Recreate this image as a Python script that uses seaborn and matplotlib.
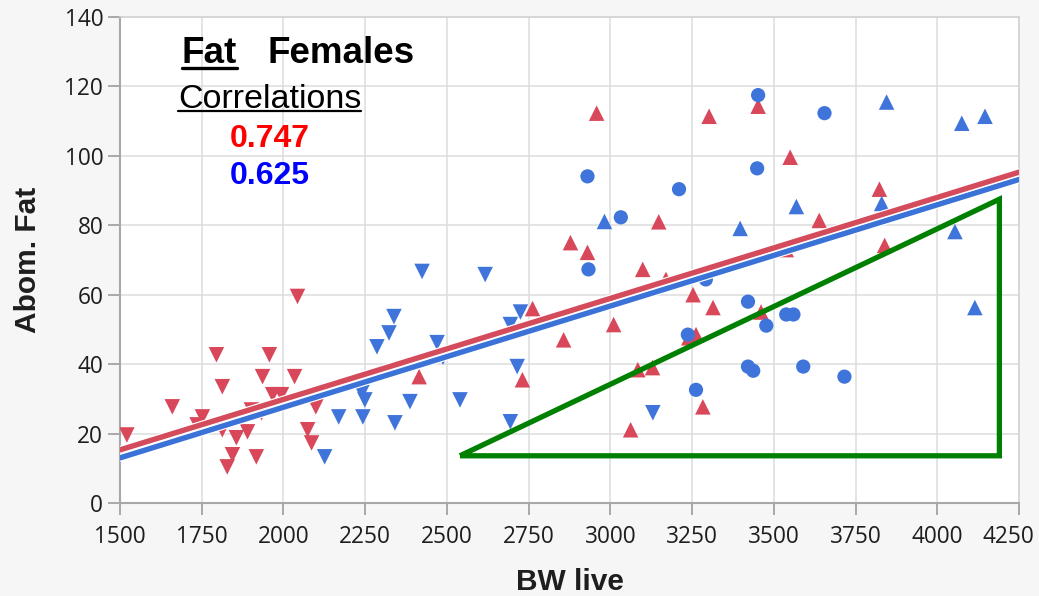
import matplotlib
matplotlib.use("Agg")
import matplotlib.pyplot as plt
import matplotlib.patheffects as pe
import matplotlib.transforms as mtransforms
from matplotlib.lines import Line2D
import numpy as np
import pandas as pd
import seaborn as sns

# ---- data: body weight (g) vs abdominal fat (g), females ----
red_down_x = [1521, 1660, 1752, 1736, 1795, 1813, 1813, 1856, 1828, 1844, 1890, 1917,
              1902, 1936, 1957, 1933, 1967, 1994, 2034, 2043, 2099, 2074, 2086]
red_down_y = [19.6, 27.7, 24.8, 22.5, 42.7, 33.5, 21.1, 18.8, 10.4, 13.9, 20.5, 13.3,
              26.8, 36.4, 42.7, 26.0, 31.2, 31.2, 36.4, 59.5, 27.7, 21.1, 17.3]

blue_down_x = [2424, 2617, 2338, 2323, 2286, 2470, 2488, 2240, 2249, 2243, 2169, 2341,
               2387, 2540, 2725, 2694, 2715, 2694, 2126, 3130]
blue_down_y = [66.7, 65.8, 53.7, 49.0, 45.0, 46.2, 42.0, 31.8, 29.7, 24.8, 24.8, 23.1,
               29.2, 29.7, 55.0, 51.4, 39.3, 23.4, 13.3, 26.0]

red_up_x = [2415, 2762, 2731, 2857, 3010, 2878, 2930, 3099, 3148, 3170, 3253, 3314,
            3240, 3262, 3084, 3129, 3283, 3062, 2958, 3302, 3452, 3550, 3639, 3823,
            3839, 3538, 3461]
red_up_y = [36.4, 56.0, 35.5, 47.0, 51.4, 75.0, 72.2, 67.3, 81.0, 64.4, 60.0, 56.3,
            47.6, 48.5, 38.4, 39.0, 27.7, 21.1, 112.3, 111.4, 114.3, 99.6, 81.4, 90.4,
            74.2, 73.0, 55.0]

blue_up_x = [2982, 3397, 3845, 4075, 4146, 3569, 3830, 4054, 4115]
blue_up_y = [81.1, 79.1, 115.5, 109.4, 111.4, 85.4, 86.3, 78.2, 56.3]

blue_circle_x = [2930, 3210, 3032, 2933, 3292, 3421, 3237, 3421, 3262, 3452, 3655,
                 3449, 3538, 3560, 3477, 3437, 3590, 3716]
blue_circle_y = [94.1, 90.4, 82.3, 67.3, 64.4, 58.0, 48.5, 39.3, 32.6, 117.5, 112.3,
                 96.4, 54.3, 54.3, 51.1, 38.1, 39.3, 36.4]

# fitted regression lines (end points over the axis range)
fit_x = [1500, 4250]
red_fit_y = [15.3, 95.3]
blue_fit_y = [13.0, 93.2]

# highlighted region
region_x = [2540, 4190, 4190, 2540]
region_y = [13.6, 87.5, 13.6, 13.6]

corr_red = "0.747"
corr_blue = "0.625"

x_ticks = list(range(1500, 4251, 250))
y_ticks = list(range(0, 141, 20))

# ---- build tidy table ----
def block(xs, ys, line, shape):
    return pd.DataFrame({"BW live": xs, "Abom. Fat": ys, "line": line, "shape": shape})

df = pd.concat([
    block(red_down_x, red_down_y, "R", "down"),
    block(blue_down_x, blue_down_y, "B", "down"),
    block(red_up_x, red_up_y, "R", "up"),
    block(blue_up_x, blue_up_y, "B", "up"),
    block(blue_circle_x, blue_circle_y, "B", "circle"),
], ignore_index=True)

RED = "#d9475a"
BLUE = "#3f74db"
palette = {"R": RED, "B": BLUE}
markers = {"down": "v", "up": "^", "circle": "o"}

W, H = 1039, 596
sns.set_theme(style="white")
plt.rcParams["font.family"] = ["Open Sans", "DejaVu Sans"]

fig = plt.figure(figsize=(W / 100, H / 100), dpi=100, facecolor="#f6f6f6")
ax = fig.add_axes([120 / W, (H - 503) / H, 899 / W, 486 / H])
ax.set_facecolor("white")

for shape, mk in markers.items():
    sub = df[df["shape"] == shape]
    sns.scatterplot(data=sub, x="BW live", y="Abom. Fat", hue="line", palette=palette,
                    marker=mk, s=105 if mk == "o" else 125, linewidth=0,
                    legend=False, ax=ax, zorder=3)

halo = [pe.Stroke(linewidth=5.6, foreground="white"), pe.Normal()]
fit = pd.DataFrame({"x": fit_x * 2, "y": red_fit_y + blue_fit_y,
                    "line": ["R", "R", "B", "B"]})
for ln, col in [("B", "#3b72d8"), ("R", "#d44b5c")]:
    sub = fit[fit["line"] == ln]
    sns.lineplot(data=sub, x="x", y="y", color=col, linewidth=3.9, ax=ax,
                 zorder=4, path_effects=halo, legend=False)

ax.plot(region_x, region_y, color="#008000", linewidth=3.8, zorder=5,
        solid_joinstyle="miter", solid_capstyle="butt")

ax.set_xlim(1500, 4250)
ax.set_ylim(0, 140)
ax.set_xticks(x_ticks)
ax.set_yticks(y_ticks)
ax.grid(True, color="#dcdcdc", linewidth=1.1)
ax.set_axisbelow(True)
for side in ["top", "right"]:
    ax.spines[side].set_color("#d0d0d0")
    ax.spines[side].set_linewidth(1.1)
for side in ["left", "bottom"]:
    ax.spines[side].set_color("#a8a8a8")
    ax.spines[side].set_linewidth(1.5)
ax.tick_params(axis="both", which="both", direction="out", length=8.6, width=1.4,
               color="#a8a8a8", labelsize=16.3, labelcolor="#1e1e1e",
               bottom=True, left=True)
ax.tick_params(axis="x", pad=7)
ax.tick_params(axis="y", pad=3.5)

# keep the last x tick label inside the figure edge
last_label = ax.get_xticklabels()[-1]
shift = mtransforms.ScaledTranslation(-11 / 100, 0, fig.dpi_scale_trans)
last_label.set_transform(last_label.get_transform() + shift)

label_font = dict(family="Liberation Sans", weight="bold", size=21.5, color="#1e1e1e")
ax.set_xlabel("BW live", **label_font)
ax.set_ylabel("Abom. Fat", **label_font)
ax.xaxis.set_label_coords(0.5, -(590 - 503) / 486)
ax.xaxis.label.set_va("baseline")
ax.yaxis.set_label_coords((28 - 120) / 899, 0.5)
ax.yaxis.label.set_va("center")

def fxy(px, py):
    return px / W, 1 - py / H

arial = "Liberation Sans"
t_fat = fig.text(*fxy(182, 63), "Fat", family=arial, weight="bold", size=26.5,
                 ha="left", va="baseline", color="black")
fig.text(*fxy(268, 63), "Females", family=arial, weight="bold", size=26.5,
         ha="left", va="baseline", color="black")
t_corr = fig.text(*fxy(178, 108), "Correlations", family=arial, size=24.5,
                  ha="left", va="baseline", color="black")
fig.text(*fxy(230, 147), corr_red, family=arial, weight="bold", size=23,
         ha="left", va="baseline", color="#ff0000")
fig.text(*fxy(230, 184), corr_blue, family=arial, weight="bold", size=23,
         ha="left", va="baseline", color="#0000ff")

# underlines beneath the heading words
renderer = fig.canvas.get_renderer()
for t, y_px, lw in [(t_fat, 68, 2.4), (t_corr, 111, 1.6)]:
    bb = t.get_window_extent(renderer)
    x0, x1 = bb.x0 / W, bb.x1 / W
    fig.add_artist(Line2D([x0, x1], [1 - y_px / H] * 2, color="black", linewidth=lw))

fig.savefig("out.png", dpi=100, facecolor=fig.get_facecolor())
